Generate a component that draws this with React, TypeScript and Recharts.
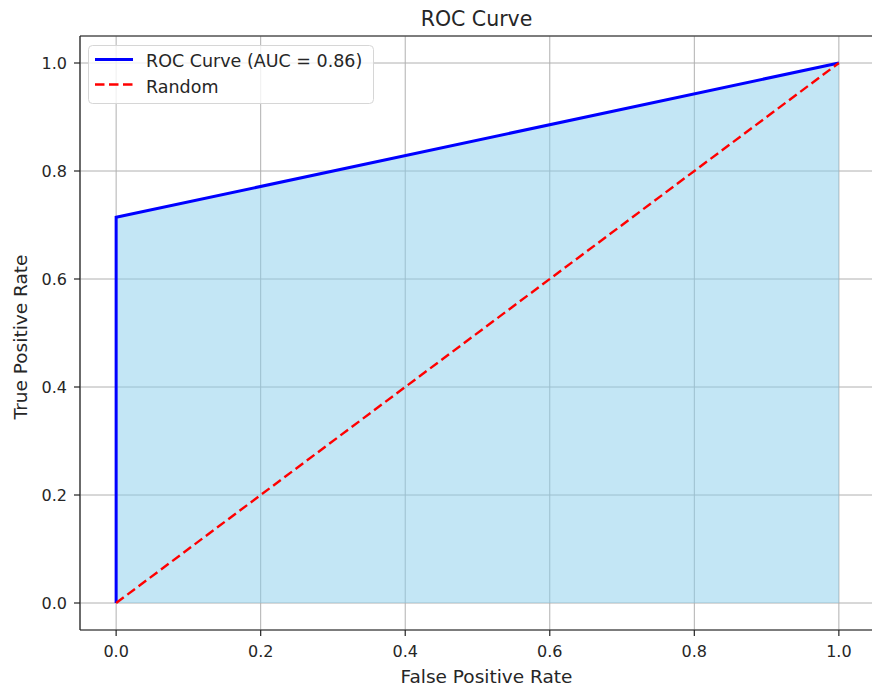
import React from 'react';
import { ComposedChart, Area, Line, XAxis, YAxis, CartesianGrid, Legend } from 'recharts';

const fpr = [0, 0, 1];
const tpr = [0, 0.7143, 1];
const randomX = [0, 1];
const randomY = [0, 1];
const ticks = [0, 0.2, 0.4, 0.6, 0.8, 1.0];
const tickLabels = ['0.0', '0.2', '0.4', '0.6', '0.8', '1.0'];
const rocLabel = 'ROC Curve (AUC = 0.86)';
const randomLabel = 'Random';

type Row = { x: number; roc?: number; rand?: number };
const data: Row[] = fpr.map((x, i) => {
  const row: Row = { x, roc: tpr[i] };
  return row;
});
randomX.forEach((x, i) => {
  const idx = i === 0 ? data.findIndex((r) => r.x === x) : data.map((r) => r.x).lastIndexOf(x);
  if (idx >= 0) data[idx].rand = randomY[i];
  else data.push({ x, rand: randomY[i] });
});

const FONT = '"DejaVu Sans", sans-serif';
const TXT = '#262626';

const fmt = (v: number) => {
  const i = ticks.findIndex((t) => Math.abs(t - v) < 1e-9);
  return i >= 0 ? tickLabels[i] : String(v);
};

const LegendBox = () => (
  <svg width={287} height={60} style={{ display: 'block', overflow: 'visible' }}>
    <rect x={0.5} y={0.5} width={285} height={58} rx={4} ry={4} fill="rgba(255,255,255,0.8)" stroke="#d6d6d6" strokeWidth={1} />
    <line x1={7} y1={14.5} x2={45} y2={14.5} stroke="#0000ff" strokeWidth={3} />
    <line x1={7} y1={39.5} x2={45} y2={39.5} stroke="#ff0000" strokeWidth={2.4} strokeDasharray="9.5 4.5" />
    <text x={58} y={21.5} fontFamily={FONT} fontSize={17.5} fill={TXT}>{rocLabel}</text>
    <text x={58} y={48} fontFamily={FONT} fontSize={17.5} fill={TXT}>{randomLabel}</text>
  </svg>
);

export default function App() {
  return (
    <div style={{ position: 'absolute', left: 0, top: 0, width: 872, height: 689, overflow: 'hidden', background: '#fff' }}>
      <ComposedChart
        width={880}
        height={689}
        data={data}
        margin={{ top: 35, right: 5, left: 0, bottom: 0 }}
      >
        <CartesianGrid stroke="#b0b0b0" strokeWidth={1} />
        <XAxis
          dataKey="x"
          type="number"
          domain={[-0.05, 1.05]}
          ticks={ticks}
          tickFormatter={fmt}
          height={59}
          axisLine={{ stroke: '#222', strokeWidth: 1.2 }}
          tickLine={{ stroke: '#222', strokeWidth: 1.2 }}
          tickSize={6}
          tickMargin={10}
          tick={{ fontFamily: FONT, fontSize: 16, fill: TXT }}
          interval={0}
          allowDataOverflow
        />
        <XAxis
          xAxisId="top"
          orientation="top"
          dataKey="x"
          type="number"
          domain={[-0.05, 1.05]}
          height={1}
          tick={false}
          tickLine={false}
          axisLine={{ stroke: '#222', strokeWidth: 1.2 }}
        />
        <YAxis
          type="number"
          domain={[-0.05, 1.05]}
          ticks={ticks}
          tickFormatter={fmt}
          width={80}
          axisLine={{ stroke: '#222', strokeWidth: 1.2 }}
          tickLine={{ stroke: '#222', strokeWidth: 1.2 }}
          tickSize={6}
          tickMargin={7}
          tick={{ fontFamily: FONT, fontSize: 16, fill: TXT }}
          interval={0}
          allowDataOverflow
        />
        <Area
          dataKey="roc"
          type="linear"
          baseValue={0}
          fill="#87ceeb"
          fillOpacity={0.5}
          stroke="#0000ff"
          strokeWidth={3}
          isAnimationActive={false}
          dot={false}
          activeDot={false}
          name={rocLabel}
        />
        <Line
          dataKey="rand"
          type="linear"
          stroke="#ff0000"
          strokeWidth={2.4}
          strokeDasharray="9.5 4.5"
          connectNulls
          dot={false}
          activeDot={false}
          isAnimationActive={false}
          name={randomLabel}
        />
        <Legend
          layout="vertical"
          align="center"
          verticalAlign="middle"
          wrapperStyle={{ position: 'absolute', left: 88, top: 45, width: 287, height: 60, margin: 0, padding: 0 }}
          content={() => <LegendBox />}
        />
      </ComposedChart>
      <svg width={872} height={689} style={{ position: 'absolute', left: 0, top: 0, pointerEvents: 'none' }}>
        <text x={476.5} y={26} textAnchor="middle" fontFamily={FONT} fontSize={20.5} fill={TXT}>ROC Curve</text>
        <text x={486.5} y={682.5} textAnchor="middle" fontFamily={FONT} fontSize={18.5} fill={TXT}>False Positive Rate</text>
        <text x={27} y={337} textAnchor="middle" fontFamily={FONT} fontSize={18.5} fill={TXT} transform="rotate(-90 27 337)">True Positive Rate</text>
      </svg>
    </div>
  );
}
